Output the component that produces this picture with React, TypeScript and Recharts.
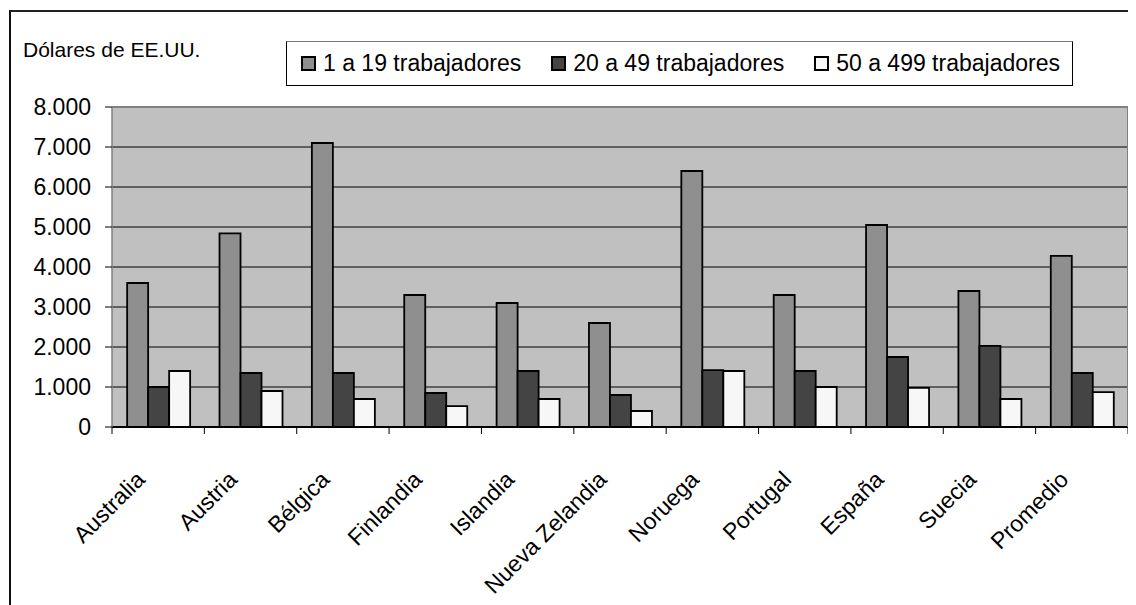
import React from 'react';
import { BarChart, Bar, XAxis, YAxis, CartesianGrid, Legend, ReferenceLine } from 'recharts';

const categories = ['Australia', 'Austria', 'Bélgica', 'Finlandia', 'Islandia', 'Nueva Zelandia', 'Noruega', 'Portugal', 'España', 'Suecia', 'Promedio'];
const small = [3600, 4840, 7100, 3300, 3100, 2600, 6400, 3300, 5050, 3400, 4280];
const medium = [1000, 1350, 1350, 850, 1400, 800, 1420, 1400, 1750, 2030, 1350];
const large = [1400, 900, 700, 520, 700, 400, 1400, 1000, 980, 700, 870];
const seriesNames = ['1 a 19 trabajadores', '20 a 49 trabajadores', '50 a 499 trabajadores'];
const yTicks = [0, 1000, 2000, 3000, 4000, 5000, 6000, 7000, 8000];
const unitLabel = 'Dólares de EE.UU.';

const data = categories.map((c, i) => ({ name: c, small: small[i], medium: medium[i], large: large[i] }));

const FONT = '"Liberation Sans", Arial, Helvetica, sans-serif';
const W = 1128;
const H = 597;

const fmt = (v: number) => String(v).replace(/\B(?=(\d{3})+(?!\d))/g, '.');

const XTick = (props: any) => {
  const { x, y, payload, index, visibleTicksCount, width } = props;
  let half = payload && typeof payload.offset === 'number' && payload.offset > 0 ? payload.offset : 0;
  if (!half && width && visibleTicksCount) half = width / visibleTicksCount / 2;
  const ax = x - 12;
  const ay = y + 54;
  return (
    <g>
      <line x1={x - half} x2={x - half} y1={y} y2={y + 7} stroke="#000" strokeWidth={1} />
      {index === visibleTicksCount - 1 && (
        <line x1={x + half} x2={x + half} y1={y} y2={y + 7} stroke="#000" strokeWidth={1} />
      )}
      <text
        x={ax}
        y={ay}
        transform={`rotate(-45 ${ax} ${ay})`}
        textAnchor="end"
        fontSize={23}
        fontFamily={FONT}
        fill="#000"
      >
        {payload.value}
      </text>
    </g>
  );
};

const renderLegend = (props: any) => {
  const payload = props.payload || [];
  return (
    <div
      style={{
        boxSizing: 'border-box',
        width: 787,
        height: 45,
        border: '1px solid #000',
        borderTopColor: '#777',
        background: '#fff',
        display: 'flex',
        alignItems: 'center',
        paddingLeft: 14,
        gap: 30,
        fontFamily: FONT,
        fontSize: 23,
        color: '#000',
        whiteSpace: 'nowrap',
      }}
    >
      {payload.map((p: any, i: number) => (
        <div key={i} style={{ display: 'flex', alignItems: 'center' }}>
          <span
            style={{
              display: 'inline-block',
              boxSizing: 'border-box',
              width: 15,
              height: 15,
              background: p.color,
              border: '2px solid #000',
              marginRight: 7,
            }}
          />
          <span style={{ lineHeight: '23px' }}>{p.value}</span>
        </div>
      ))}
    </div>
  );
};

export default function App() {
  return (
    <div style={{ position: 'relative', width: W, height: H, overflow: 'hidden', background: '#fff' }}>
      <BarChart
        width={W}
        height={H}
        data={data}
        margin={{ top: 99, right: 7, bottom: 0, left: 0 }}
        barCategoryGap="16.4%"
        barGap={0}
      >
        <CartesianGrid yAxisId="left" vertical={false} stroke="#000" fill="#c0c0c0" fillOpacity={1} />
        <XAxis
          dataKey="name"
          height={178}
          interval={0}
          tickLine={false}
          tickSize={0}
          tickMargin={0}
          axisLine={{ stroke: '#000', strokeWidth: 2 }}
          tick={<XTick />}
        />
        <YAxis
          yAxisId="left"
          width={104}
          domain={[0, 8000]}
          ticks={yTicks}
          interval={0}
          tickFormatter={fmt}
          tickSize={7}
          tickMargin={14}
          tickLine={{ stroke: '#000' }}
          axisLine={{ stroke: '#808080', strokeWidth: 1.5 }}
          tick={{ fontSize: 23, fontFamily: FONT, fill: '#000' }}
        />
        <YAxis
          yAxisId="right"
          orientation="right"
          width={1}
          domain={[0, 8000]}
          tick={false}
          tickLine={false}
          axisLine={{ stroke: '#808080', strokeWidth: 2 }}
        />
        <ReferenceLine yAxisId="left" y={8000} stroke="#808080" strokeWidth={2} />
        <Legend
          verticalAlign="middle"
          align="center"
          layout="horizontal"
          content={renderLegend}
          wrapperStyle={{ position: 'absolute', left: 278, top: 33, width: 787, height: 45, margin: 0, padding: 0 }}
        />
        <Bar yAxisId="left" dataKey="small" name={seriesNames[0]} fill="#8f8f8f" stroke="#000" strokeWidth={1.8} isAnimationActive={false} />
        <Bar yAxisId="left" dataKey="medium" name={seriesNames[1]} fill="#444444" stroke="#000" strokeWidth={1.8} isAnimationActive={false} />
        <Bar yAxisId="left" dataKey="large" name={seriesNames[2]} fill="#f7f7f7" stroke="#000" strokeWidth={1.8} isAnimationActive={false} />
      </BarChart>
      <div
        style={{
          position: 'absolute',
          left: 1,
          top: 2,
          width: 3000,
          height: 3000,
          borderLeft: '2px solid #111',
          borderTop: '2px solid #222',
          pointerEvents: 'none',
        }}
      />
      <div
        style={{
          position: 'absolute',
          left: 15,
          top: 31,
          fontFamily: FONT,
          fontSize: 21,
          lineHeight: '21px',
          color: '#000',
          whiteSpace: 'nowrap',
        }}
      >
        {unitLabel}
      </div>
    </div>
  );
}
